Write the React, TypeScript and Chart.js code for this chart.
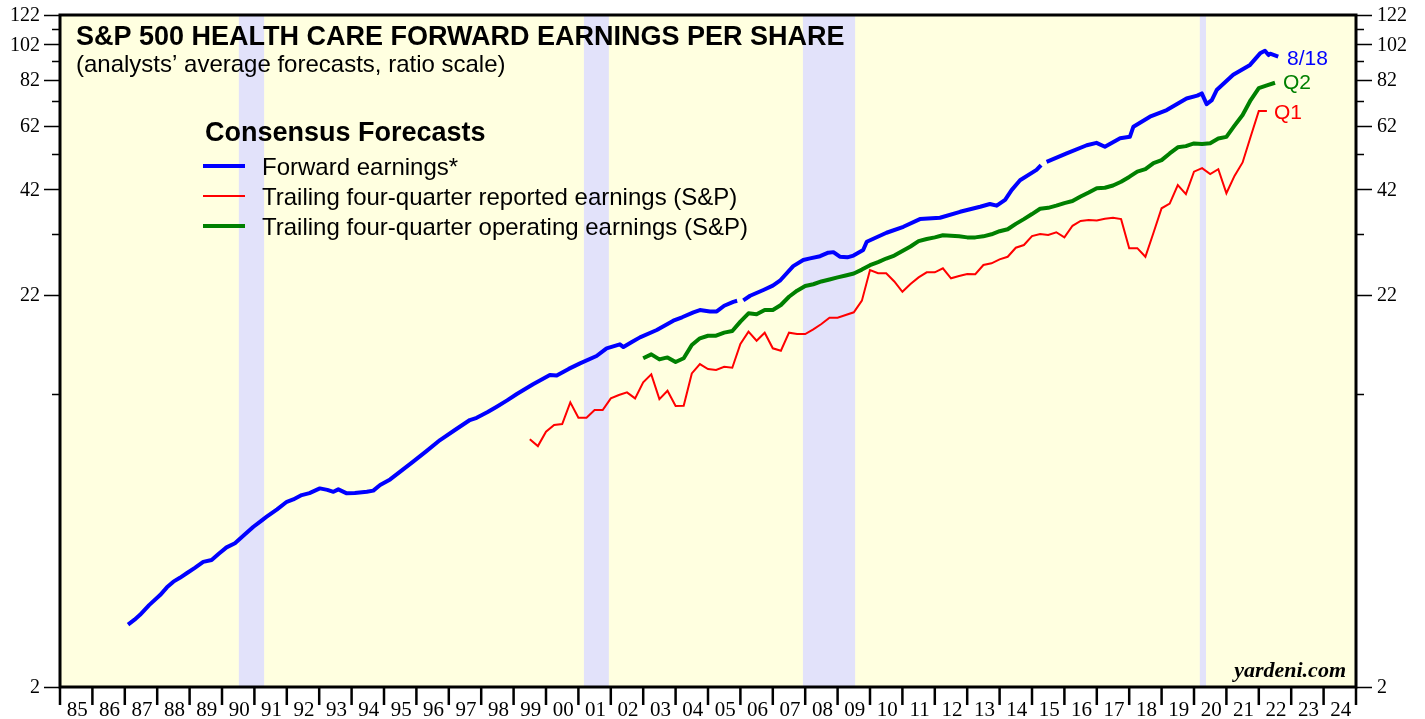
import React, { useEffect, useRef } from 'react';
import { Chart, registerables } from 'chart.js';

Chart.register(...registerables);

// ---------- DATA ----------
const fwdYears = [
  1987.10, 1987.30, 1987.47, 1987.75, 1988.09, 1988.30, 1988.50, 1988.70, 1988.91, 1989.15,
  1989.42, 1989.68, 1989.90, 1990.14, 1990.40, 1990.70, 1990.97, 1991.20, 1991.38, 1991.70,
  1992.00, 1992.20, 1992.46, 1992.70, 1993.02, 1993.25, 1993.44, 1993.59, 1993.85, 1994.10,
  1994.47, 1994.67, 1994.88, 1995.19, 1995.49, 1995.90, 1996.30, 1996.73, 1997.20, 1997.65,
  1997.86, 1998.20, 1998.48, 1998.80, 1999.10, 1999.60, 2000.12, 2000.33, 2000.70, 2001.05,
  2001.56, 2001.87, 2002.28, 2002.39, 2002.65, 2002.90, 2003.42, 2003.93, 2004.20, 2004.55,
  2004.75, 2005.06, 2005.27, 2005.50, 2005.78, 2005.90, 2006.00, 2006.09, 2006.30, 2006.71,
  2007.00, 2007.22, 2007.63, 2007.94, 2008.15, 2008.46, 2008.71, 2008.87, 2009.07, 2009.30,
  2009.49, 2009.79, 2009.90, 2010.51, 2011.03, 2011.54, 2012.16, 2012.78, 2013.40, 2013.70,
  2013.91, 2014.17, 2014.37, 2014.63, 2015.14, 2015.28, 2015.37, 2015.45, 2016.07, 2016.69,
  2016.99, 2017.25, 2017.72, 2018.02, 2018.13, 2018.64, 2019.16, 2019.77, 2020.10, 2020.24,
  2020.39, 2020.55, 2020.70, 2021.21, 2021.73, 2022.04, 2022.19, 2022.30, 2022.35, 2022.60,
];
const fwdValues: (number | null)[] = [
  2.93, 3.02, 3.11, 3.30, 3.51, 3.68, 3.81, 3.90, 4.01, 4.14,
  4.30, 4.35, 4.52, 4.70, 4.82, 5.08, 5.33, 5.52, 5.67, 5.93,
  6.21, 6.30, 6.47, 6.55, 6.74, 6.68, 6.60, 6.70, 6.54, 6.55,
  6.60, 6.65, 6.88, 7.12, 7.46, 7.94, 8.45, 9.06, 9.65, 10.24,
  10.38, 10.75, 11.11, 11.55, 12.01, 12.75, 13.49, 13.44, 14.00, 14.48,
  15.15, 15.88, 16.27, 16.00, 16.50, 16.98, 17.76, 18.80, 19.20, 19.79,
  20.07, 19.90, 19.90, 20.60, 21.10, 21.24, null, 21.30, 21.90, 22.69,
  23.30, 24.01, 26.26, 27.26, 27.53, 27.90, 28.50, 28.60, 27.81, 27.70,
  28.00, 28.97, 30.48, 32.20, 33.40, 35.00, 35.30, 36.60, 37.76, 38.40,
  38.00, 39.35, 41.80, 44.40, 47.30, 48.70, null, 49.70, 52.30, 55.00,
  55.80, 54.50, 57.40, 57.90, 61.60, 65.50, 68.20, 73.20, 74.50, 75.50,
  70.70, 72.50, 77.10, 84.60, 89.90, 96.50, 98.00, 95.50, 96.30, 94.60,
];

const repYears = [
  1999.50, 1999.75, 2000.00, 2000.25, 2000.50, 2000.75, 2001.00, 2001.25, 2001.50, 2001.75,
  2002.00, 2002.25, 2002.50, 2002.75, 2003.00, 2003.25, 2003.50, 2003.75, 2004.00, 2004.25,
  2004.50, 2004.75, 2005.00, 2005.25, 2005.50, 2005.75, 2006.00, 2006.25, 2006.50, 2006.75,
  2007.00, 2007.25, 2007.50, 2007.75, 2008.00, 2008.25, 2008.50, 2008.75, 2009.00, 2009.25,
  2009.50, 2009.75, 2010.00, 2010.25, 2010.50, 2010.75, 2011.00, 2011.25, 2011.50, 2011.75,
  2012.00, 2012.25, 2012.50, 2012.75, 2013.00, 2013.25, 2013.50, 2013.75, 2014.00, 2014.25,
  2014.50, 2014.75, 2015.00, 2015.25, 2015.50, 2015.75, 2016.00, 2016.25, 2016.50, 2016.75,
  2017.00, 2017.25, 2017.50, 2017.75, 2018.00, 2018.25, 2018.50, 2018.75, 2019.00, 2019.25,
  2019.50, 2019.75, 2020.00, 2020.25, 2020.50, 2020.75, 2021.00, 2021.25, 2021.50, 2021.75,
  2022.00, 2022.25,
];
const repValues = [
  9.10, 8.73, 9.53, 9.93, 9.99, 11.41, 10.38, 10.38, 10.89, 10.89,
  11.69, 11.93, 12.13, 11.69, 12.89, 13.54, 11.64, 12.25, 11.16, 11.18,
  13.62, 14.42, 13.99, 13.91, 14.19, 14.10, 16.30, 17.58, 16.63, 17.47,
  15.88, 15.65, 17.47, 17.33, 17.33, 17.83, 18.42, 19.15, 19.15, 19.47,
  19.79, 21.25, 25.63, 25.15, 25.12, 23.90, 22.44, 23.53, 24.51, 25.28,
  25.28, 25.90, 24.37, 24.71, 25.02, 24.99, 26.43, 26.71, 27.37, 27.80,
  29.38, 29.87, 31.56, 31.96, 31.76, 32.30, 31.30, 33.60, 34.60, 34.80,
  34.70, 35.10, 35.30, 35.00, 29.30, 29.30, 27.80, 32.20, 37.40, 38.50,
  43.10, 40.80, 46.80, 47.80, 46.10, 47.50, 41.00, 45.60, 49.50, 58.00,
  67.80, 67.80,
];

const opYears = [
  2003.00, 2003.25, 2003.50, 2003.75, 2004.00, 2004.25, 2004.50, 2004.75, 2005.00, 2005.25,
  2005.50, 2005.75, 2006.00, 2006.25, 2006.50, 2006.75, 2007.00, 2007.25, 2007.50, 2007.75,
  2008.00, 2008.25, 2008.50, 2008.75, 2009.00, 2009.25, 2009.50, 2009.75, 2010.00, 2010.25,
  2010.50, 2010.75, 2011.00, 2011.25, 2011.50, 2011.75, 2012.00, 2012.25, 2012.50, 2012.75,
  2013.00, 2013.25, 2013.50, 2013.75, 2014.00, 2014.25, 2014.50, 2014.75, 2015.00, 2015.25,
  2015.50, 2015.75, 2016.00, 2016.25, 2016.50, 2016.75, 2017.00, 2017.25, 2017.50, 2017.75,
  2018.00, 2018.25, 2018.50, 2018.75, 2019.00, 2019.25, 2019.50, 2019.75, 2020.00, 2020.25,
  2020.50, 2020.75, 2021.00, 2021.25, 2021.50, 2021.75, 2022.00, 2022.25, 2022.50,
];
const opValues = [
  14.94, 15.30, 14.84, 15.02, 14.60, 14.94, 16.20, 16.88, 17.15, 17.15,
  17.48, 17.65, 18.69, 19.67, 19.55, 20.07, 20.07, 20.70, 21.77, 22.59,
  23.25, 23.50, 23.90, 24.20, 24.50, 24.80, 25.10, 25.70, 26.40, 26.90,
  27.50, 28.00, 28.80, 29.60, 30.60, 31.00, 31.30, 31.70, 31.60, 31.50,
  31.30, 31.30, 31.50, 31.90, 32.50, 32.90, 34.00, 35.00, 36.10, 37.30,
  37.50, 38.00, 38.60, 39.10, 40.20, 41.20, 42.30, 42.40, 43.00, 44.00,
  45.30, 46.80, 47.50, 49.30, 50.20, 52.30, 54.30, 54.70, 55.60, 55.40,
  55.70, 57.30, 57.90, 62.00, 66.20, 72.50, 78.00, 79.30, 80.60,
];

const recessionStarts = [1990.52, 2001.17, 2007.93, 2020.18];
const recessionEnds = [1991.30, 2001.94, 2009.54, 2020.37];

const yMajorTicks = [2, 22, 42, 62, 82, 102, 122];
const yMinorTicks = [12, 32, 52, 72, 92, 112];
const xTickYears = [
  1985, 1986, 1987, 1988, 1989, 1990, 1991, 1992, 1993, 1994, 1995, 1996, 1997, 1998,
  1999, 2000, 2001, 2002, 2003, 2004, 2005, 2006, 2007, 2008, 2009, 2010, 2011, 2012,
  2013, 2014, 2015, 2016, 2017, 2018, 2019, 2020, 2021, 2022, 2023, 2024, 2025,
];
const xLabels = [
  '85', '86', '87', '88', '89', '90', '91', '92', '93', '94', '95', '96', '97', '98',
  '99', '00', '01', '02', '03', '04', '05', '06', '07', '08', '09', '10', '11', '12',
  '13', '14', '15', '16', '17', '18', '19', '20', '21', '22', '23', '24',
];

const titleText = 'S&P 500 HEALTH CARE FORWARD EARNINGS PER SHARE';
const subtitleText = '(analysts\u2019 average forecasts, ratio scale)';
const legendTitle = 'Consensus Forecasts';
const legendItems = [
  { label: 'Forward earnings*', color: '#0000FF', width: 4 },
  { label: 'Trailing four-quarter reported earnings (S&P)', color: '#FF0000', width: 2 },
  { label: 'Trailing four-quarter operating earnings (S&P)', color: '#008000', width: 4 },
];

const SANS = '"Liberation Sans", Arial, Helvetica, sans-serif';
const SERIF = '"Liberation Serif", "Times New Roman", serif';

const toPoints = (xs: number[], ys: (number | null)[]) => xs.map((x, i) => ({ x, y: ys[i] }));

const decorPlugin = {
  id: 'decor',
  beforeDatasetsDraw(chart: any) {
    const { ctx, chartArea: a, scales } = chart;
    const x = scales.x;
    ctx.save();
    ctx.fillStyle = '#FFFFE0';
    ctx.fillRect(a.left, a.top, a.right - a.left, a.bottom - a.top);
    ctx.fillStyle = '#E2E2FA';
    recessionStarts.forEach((s, i) => {
      const x0 = x.getPixelForValue(s);
      const x1 = x.getPixelForValue(recessionEnds[i]);
      ctx.fillRect(x0, a.top, x1 - x0, a.bottom - a.top);
    });
    ctx.restore();
  },
  afterDraw(chart: any) {
    const { ctx, chartArea: a, scales } = chart;
    const x = scales.x;
    const y = scales.y;
    ctx.save();

    // frame
    ctx.strokeStyle = '#000';
    ctx.lineWidth = 3;
    ctx.strokeRect(a.left, a.top, a.right - a.left, a.bottom - a.top);

    // y ticks (both sides)
    ctx.lineWidth = 1.5;
    ctx.beginPath();
    yMajorTicks.forEach((v) => {
      const py = Math.round(y.getPixelForValue(v)) + 0.5;
      ctx.moveTo(a.left - 16, py);
      ctx.lineTo(a.left, py);
      ctx.moveTo(a.right, py);
      ctx.lineTo(a.right + 16, py);
    });
    yMinorTicks.forEach((v) => {
      const py = Math.round(y.getPixelForValue(v)) + 0.5;
      ctx.moveTo(a.left - 8, py);
      ctx.lineTo(a.left, py);
      ctx.moveTo(a.right, py);
      ctx.lineTo(a.right + 8, py);
    });
    ctx.stroke();

    ctx.fillStyle = '#000';
    ctx.font = `20px ${SERIF}`;
    ctx.textBaseline = 'middle';
    yMajorTicks.forEach((v) => {
      const py = y.getPixelForValue(v) + 1;
      ctx.textAlign = 'right';
      ctx.fillText(String(v), a.left - 20, py);
      ctx.textAlign = 'left';
      ctx.fillText(String(v), a.right + 21, py);
    });

    // x ticks
    ctx.lineWidth = 2.5;
    ctx.beginPath();
    xTickYears.forEach((yr) => {
      const px = x.getPixelForValue(yr);
      ctx.moveTo(px, a.bottom);
      ctx.lineTo(px, a.bottom + 18);
    });
    ctx.stroke();
    ctx.textAlign = 'center';
    ctx.textBaseline = 'alphabetic';
    ctx.font = `21px ${SERIF}`;
    xLabels.forEach((lab, i) => {
      const px = x.getPixelForValue(xTickYears[i] + 0.5);
      ctx.fillText(lab, px + 1, 716);
    });

    // titles
    ctx.textAlign = 'left';
    ctx.font = `bold 27px ${SANS}`;
    ctx.fillText(titleText, 76, 45);
    ctx.font = `24px ${SANS}`;
    ctx.fillText(subtitleText, 76, 72);

    // legend
    ctx.font = `bold 27px ${SANS}`;
    ctx.fillText(legendTitle, 205, 141);
    ctx.font = `24px ${SANS}`;
    legendItems.forEach((it, i) => {
      const cy = 166 + i * 30;
      ctx.strokeStyle = it.color;
      ctx.lineWidth = it.width;
      ctx.beginPath();
      ctx.moveTo(203, cy);
      ctx.lineTo(245, cy);
      ctx.stroke();
      ctx.fillStyle = '#000';
      ctx.fillText(it.label, 262, cy + 8.5);
    });

    // end labels
    ctx.font = `21px ${SANS}`;
    ctx.fillStyle = '#0000FF';
    ctx.fillText('8/18', 1287, 65);
    ctx.fillStyle = '#008000';
    ctx.fillText('Q2', 1283, 89);
    ctx.fillStyle = '#FF0000';
    ctx.fillText('Q1', 1274, 119);

    // source
    ctx.fillStyle = '#000';
    ctx.textAlign = 'right';
    ctx.font = `italic bold 22px ${SERIF}`;
    ctx.fillText('yardeni.com', 1346, 677);

    ctx.restore();
  },
};

export default function App() {
  const canvasRef = useRef<HTMLCanvasElement | null>(null);

  useEffect(() => {
    const canvas = canvasRef.current;
    if (!canvas) return;
    const chart = new Chart(canvas, {
      type: 'line',
      data: {
        datasets: [
          {
            label: 'Trailing four-quarter reported earnings (S&P)',
            data: toPoints(repYears, repValues),
            borderColor: '#FF0000',
            borderWidth: 2,
            pointRadius: 0,
            tension: 0,
          },
          {
            label: 'Trailing four-quarter operating earnings (S&P)',
            data: toPoints(opYears, opValues),
            borderColor: '#008000',
            borderWidth: 4,
            pointRadius: 0,
            tension: 0,
            borderJoinStyle: 'round',
          },
          {
            label: 'Forward earnings*',
            data: toPoints(fwdYears, fwdValues),
            borderColor: '#0000FF',
            borderWidth: 4,
            pointRadius: 0,
            tension: 0,
            spanGaps: false,
            borderJoinStyle: 'round',
          },
        ],
      } as any,
      options: {
        animation: false,
        responsive: false,
        maintainAspectRatio: false,
        layout: { padding: { left: 60, right: 69, top: 15, bottom: 32 } },
        plugins: { legend: { display: false }, tooltip: { enabled: false } },
        scales: {
          x: { type: 'linear', min: 1985, max: 2025, display: false },
          y: { type: 'logarithmic', min: 2, max: 122, display: false },
        },
      } as any,
      plugins: [decorPlugin],
    });
    return () => chart.destroy();
  }, []);

  return (
    <div style={{ position: 'fixed', left: 0, top: 0, width: 1425, height: 719, background: '#fff' }}>
      <canvas ref={canvasRef} width={1425} height={719} style={{ display: 'block' }} />
    </div>
  );
}
